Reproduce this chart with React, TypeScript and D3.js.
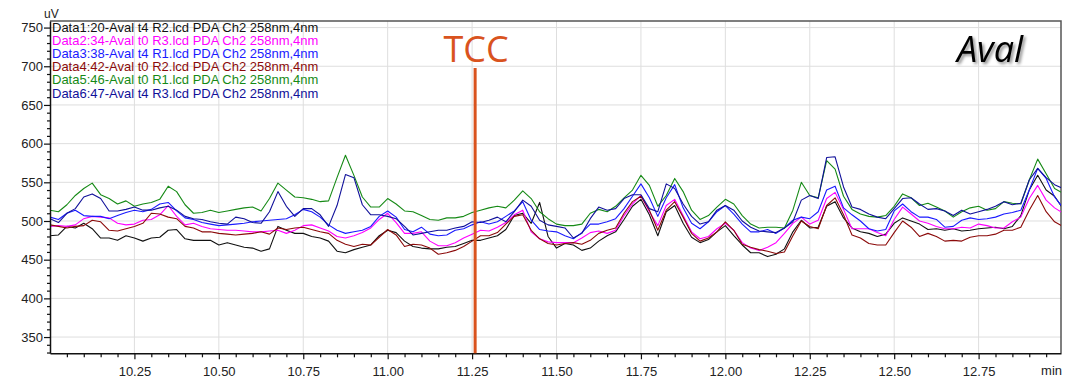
import { useEffect, useRef } from "react";
import * as d3 from "d3";

// sampling grid of the traces (min)
const startTime = 10.0;
const timeStep = 0.025;

const data1 = [481, 482, 493, 491, 497, 490, 478, 478, 475, 481, 478, 474, 478, 479, 488, 489, 477, 475, 475, 475, 469, 472, 469, 466, 465, 461, 464, 493, 488, 484, 484, 480, 478,
  474, 461,
  459, 463, 466, 469, 481, 488, 485, 474, 467, 465, 464, 464, 466, 467, 471, 475, 475, 478, 481, 489, 507, 510, 497, 524, 480, 465, 471, 469, 462, 465, 474,
  481, 486, 502, 519, 528, 508, 481, 512, 520, 497, 479, 472, 476, 486, 494, 481, 469, 459, 459, 454, 457, 464, 486, 501, 491, 492, 519,
  525, 504,
  491, 486, 484, 480, 483, 497, 504, 500, 496, 489, 490, 488, 490, 487, 488, 490, 491, 492, 490, 493, 507, 540, 559, 540, 532, 516];

const data2 = [493, 494, 493, 495, 503, 506, 505, 504, 497, 495, 496, 501, 502, 508, 520, 506, 495, 497, 493, 490, 489, 488, 488, 487, 486, 486, 487, 488, 484, 488, 494, 495, 491,
  487, 480,
  478, 481, 485, 491, 502, 510, 498, 484, 484, 486, 474, 468, 468, 472, 478, 483, 488, 487, 492, 498, 508, 514, 486, 477, 473, 472, 472, 472, 478, 485, 487,
  484, 488, 507, 522, 533, 512, 494, 520, 528, 507, 486, 477, 480, 490, 497, 488, 472, 465, 462, 466, 472, 484, 497, 505, 496, 501, 529,
  537, 515,
  490, 490, 490, 485, 481, 502, 518, 509, 500, 497, 493, 490, 490, 492, 491, 496, 494, 491, 491, 499, 505, 529, 546, 527, 517, 510];

const data3 = [505, 502, 510, 514, 507, 506, 506, 503, 507, 511, 514, 512, 515, 522, 524, 513, 504, 502, 498, 496, 494, 495, 496, 497, 499, 500, 501, 502, 503, 508, 515, 512, 505,
  495, 488,
  484, 486, 488, 493, 506, 513, 505, 489, 486, 492, 483, 481, 482, 488, 490, 495, 499, 496, 499, 506, 513, 525, 501, 489, 487, 486, 481, 477, 485, 496, 496,
  499, 503, 516, 532, 548, 530, 506, 530, 547, 517, 497, 490, 499, 512, 520, 509, 496, 486, 486, 489, 484, 491, 501, 505, 503, 512, 540,
  545, 517,
  508, 500, 490, 487, 489, 513, 522, 512, 505, 505, 502, 492, 493, 501, 504, 502, 503, 505, 509, 511, 514, 540, 568, 555, 531, 517];

const data4 = [495, 493, 491, 493, 494, 501, 499, 488, 487, 490, 493, 497, 510, 509, 505, 503, 493, 491, 486, 486, 484, 483, 482, 483, 484, 486, 483, 491, 489, 491, 492, 489, 486,
  484, 475,
  470, 467, 470, 469, 479, 489, 482, 467, 470, 469, 465, 457, 459, 462, 467, 474, 481, 481, 485, 496, 506, 508, 488, 477, 471, 469, 471, 472, 470, 475, 484,
  488, 491, 510, 525, 532, 514, 488, 514, 525, 505, 484, 474, 478, 486, 499, 488, 470, 466, 463, 461, 458, 460, 481, 500, 493, 490, 520,
  530, 508,
  482, 478, 471, 469, 469, 485, 500, 492, 480, 484, 480, 474, 475, 474, 479, 481, 481, 483, 488, 488, 492, 514, 533, 512, 499, 493];

const data5 = [514, 512, 521, 533, 542, 549, 534, 529, 522, 526, 519, 522, 524, 528, 545, 538, 521, 510, 511, 514, 511, 513, 515, 517, 518, 513, 529, 549, 540, 531, 530, 528, 525,
  526, 556,
  585, 559, 531, 518, 518, 529, 522, 513, 512, 507, 502, 501, 504, 504, 506, 511, 514, 517, 519, 517, 527, 539, 529, 512, 503, 496, 494, 494, 496, 510, 515,
  512, 519, 530, 540, 559, 546, 519, 533, 555, 538, 514, 502, 507, 518, 528, 522, 507, 496, 491, 492, 492, 491, 514, 550, 533, 530, 578,
  567, 532,
  515, 509, 506, 505, 507, 519, 535, 530, 520, 523, 518, 513, 505, 512, 517, 519, 514, 516, 525, 523, 522, 553, 580, 561, 542, 536];

const data6 = [503, 498, 510, 516, 531, 535, 529, 513, 513, 515, 518, 514, 514, 517, 519, 514, 506, 503, 502, 499, 497, 496, 505, 503, 498, 497, 512, 538, 519, 506, 516, 516, 508,
  493, 520,
  560, 556, 521, 508, 508, 506, 503, 493, 482, 484, 486, 488, 488, 491, 493, 499, 498, 501, 505, 499, 512, 527, 519, 501, 495, 493, 491, 478, 484, 503, 518,
  514, 516, 529, 534, 534, 516, 512, 548, 542, 522, 506, 496, 499, 514, 520, 514, 500, 492, 487, 486, 485, 491, 499, 527, 533, 529, 582,
  583, 544,
  518, 515, 509, 505, 503, 516, 529, 530, 522, 515, 516, 513, 507, 514, 509, 512, 515, 519, 525, 521, 523, 553, 568, 556, 547, 542];

const seriesNames = [
  "Data1:20-Aval t4 R2.lcd PDA Ch2 258nm,4nm",
  "Data2:34-Aval t0 R3.lcd PDA Ch2 258nm,4nm",
  "Data3:38-Aval t4 R1.lcd PDA Ch2 258nm,4nm",
  "Data4:42-Aval t0 R2.lcd PDA Ch2 258nm,4nm",
  "Data5:46-Aval t0 R1.lcd PDA Ch2 258nm,4nm",
  "Data6:47-Aval t4 R3.lcd PDA Ch2 258nm,4nm",
];
const seriesColors = ["#111111", "#ff00ff", "#1a1aff", "#8b0a0a", "#168a16", "#10109a"];
const seriesValues = [data1, data2, data3, data4, data5, data6];

const xMajorTicks = [10.25, 10.5, 10.75, 11.0, 11.25, 11.5, 11.75, 12.0, 12.25, 12.5, 12.75];
const yMajorTicks = [350, 400, 450, 500, 550, 600, 650, 700, 750];
const tccTime = 11.259;

export default function App() {
  const svgRef = useRef<SVGSVGElement | null>(null);

  useEffect(() => {
    if (!svgRef.current) return;
    const width = 1074;
    const height = 379;
    const left = 50;
    const right = 1061;
    const top = 21;
    const bottom = 353.3;
    const font = "'Liberation Sans', Arial, sans-serif";

    const svg = d3.select(svgRef.current);
    svg.selectAll("*").remove();

    const x = d3.scaleLinear().domain([10, 12.994]).range([left, right]);
    const y = d3.scaleLinear().domain([329, 758.5]).range([bottom, top]);

    const defs = svg.append("defs");
    defs
      .append("clipPath")
      .attr("id", "plot-clip")
      .append("rect")
      .attr("x", left)
      .attr("y", top)
      .attr("width", right - left)
      .attr("height", bottom - top);
    const shadow = defs.append("filter").attr("id", "aval-shadow").attr("x", "-20%").attr("y", "-20%").attr("width", "150%").attr("height", "150%");
    shadow
      .append("feDropShadow")
      .attr("dx", 2)
      .attr("dy", 2)
      .attr("stdDeviation", 1.4)
      .attr("flood-color", "#000")
      .attr("flood-opacity", 0.45);

    svg.append("rect").attr("width", width).attr("height", height).attr("fill", "#fff");

    // grid
    const grid = svg.append("g").attr("stroke", "#dedede").attr("stroke-width", 1);
    xMajorTicks.forEach((t) => {
      grid.append("line").attr("x1", x(t)).attr("x2", x(t)).attr("y1", top).attr("y2", bottom);
    });
    yMajorTicks.forEach((v) => {
      grid.append("line").attr("x1", left).attr("x2", right).attr("y1", y(v)).attr("y2", y(v));
    });

    // frame (top / right)
    svg
      .append("path")
      .attr("d", `M${left},${top}H${right}V${bottom}`)
      .attr("fill", "none")
      .attr("stroke", "#555")
      .attr("stroke-width", 1.5);

    // traces
    const times = d3.range(data1.length).map((i) => startTime + i * timeStep);
    const line = d3
      .line<number>()
      .x((_, i) => x(times[i]))
      .y((v) => y(v));
    const plot = svg.append("g").attr("clip-path", "url(#plot-clip)");
    seriesValues.forEach((vals, k) => {
      plot
        .append("path")
        .datum(vals)
        .attr("d", line)
        .attr("fill", "none")
        .attr("stroke", seriesColors[k])
        .attr("stroke-width", 1.1)
        .attr("stroke-linejoin", "round");
    });

    // axes
    const yMinor = d3.range(330, 760, 10).filter((v) => v % 50 !== 0);
    const xMinor = d3.range(1, 60).map((i) => 10 + i * 0.05).filter((t) => Math.abs((t * 4) - Math.round(t * 4)) > 1e-6);

    const yAxis = svg.append("g").attr("transform", `translate(${left},0)`);
    yAxis.call(d3.axisLeft(y).tickValues(yMajorTicks).tickSize(6).tickSizeOuter(0).tickPadding(1).tickFormat(d3.format("d")));
    svg
      .append("g")
      .attr("transform", `translate(${left},0)`)
      .call(d3.axisLeft(y).tickValues(yMinor).tickSize(3).tickSizeOuter(0).tickFormat(() => ""))
      .select(".domain")
      .remove();

    const xAxis = svg.append("g").attr("transform", `translate(0,${bottom})`);
    xAxis.call(d3.axisBottom(x).tickValues(xMajorTicks).tickSize(6).tickSizeOuter(0).tickPadding(7).tickFormat(d3.format(".2f")));
    svg
      .append("g")
      .attr("transform", `translate(0,${bottom})`)
      .call(d3.axisBottom(x).tickValues(xMinor).tickSize(4).tickSizeOuter(0).tickFormat(() => ""))
      .select(".domain")
      .remove();

    svg.selectAll(".domain").attr("stroke", "#111").attr("stroke-width", 1.5);
    svg.selectAll(".tick line").attr("stroke", "#111").attr("stroke-width", 1.2);
    svg
      .selectAll(".tick text")
      .attr("font-family", font)
      .attr("font-size", 13)
      .attr("fill", "#222");

    svg
      .append("text")
      .attr("x", 44)
      .attr("y", 18)
      .attr("font-family", font)
      .attr("font-size", 12)
      .attr("fill", "#222")
      .text("uV");
    svg
      .append("text")
      .attr("x", 1062)
      .attr("y", 375)
      .attr("text-anchor", "end")
      .attr("font-family", font)
      .attr("font-size", 13)
      .attr("fill", "#222")
      .text("min");

    // legend
    seriesNames.forEach((name, k) => {
      svg
        .append("text")
        .attr("x", 52)
        .attr("y", 32 + k * 13.1)
        .attr("font-family", font)
        .attr("font-size", 13)
        .attr("fill", seriesColors[k])
        .text(name);
    });

    // TCC marker
    svg
      .append("line")
      .attr("x1", x(tccTime))
      .attr("x2", x(tccTime))
      .attr("y1", 68)
      .attr("y2", bottom)
      .attr("stroke", "#d9531e")
      .attr("stroke-width", 3);
    svg
      .append("text")
      .attr("x", x(tccTime) + 1)
      .attr("y", 62)
      .attr("text-anchor", "middle")
      .attr("font-family", "'Open Sans', sans-serif")
      .attr("font-size", 36)
      .attr("fill", "#d9531e")
      .text("TCC");

    svg
      .append("text")
      .attr("x", 990)
      .attr("y", 62)
      .attr("text-anchor", "middle")
      .attr("font-family", "'Open Sans', sans-serif")
      .attr("font-style", "italic")
      .attr("font-size", 36)
      .attr("fill", "#000")
      .attr("filter", "url(#aval-shadow)")
      .text("Aval");
  }, []);

  return (
    <svg
      ref={svgRef}
      width={1074}
      height={379}
      viewBox="0 0 1074 379"
      style={{ position: "absolute", left: 0, top: 0, display: "block" }}
    ></svg>
  );
}
